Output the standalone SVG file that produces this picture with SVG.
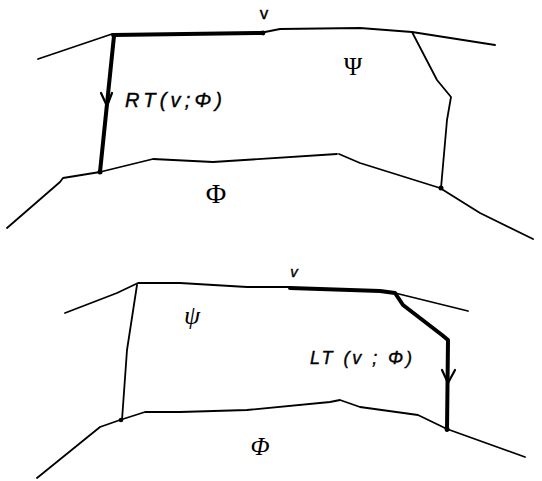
<svg xmlns="http://www.w3.org/2000/svg" width="542" height="481" viewBox="0 0 542 481">
<style>
.thin{fill:none;stroke:#000;stroke-width:1.8;stroke-linejoin:round;stroke-linecap:round}
.thick{fill:none;stroke:#000;stroke-width:4;stroke-linejoin:round;stroke-linecap:round}
.arr{fill:none;stroke:#000;stroke-width:2.2;stroke-linejoin:round;stroke-linecap:round}
.lbl{font-family:"Liberation Sans",Arial,sans-serif;fill:#000;stroke:#000;stroke-width:0.4}
.sym{font-family:"Liberation Serif","Times New Roman",serif;fill:#000}
</style>
<rect width="542" height="481" fill="#fff"/>
<g id="top-diagram">
  <g id="top-connectors">
    <path class="thin" d="M38,59 L112,34"/>
    <path class="thin" d="M265,32 L280,29 L360,28 L412,32 L495,45"/>
    <path class="thin" d="M412,32 L437,80 L451,97 L447,120 L441,188"/>
    <path class="thin" d="M7,228 L60,182 L63,178 L100,172 L153,159 L213,162 L337,154"/>
    <path class="thin" d="M339,154 L360,163 L440,188 L480,213 L533,239"/>
    <path class="thick" d="M113,35 L263,33"/>
    <path class="thick" d="M114,36 L100,172"/>
    <path class="arr" d="M101,93 L107,106 L112,93"/>
    <circle cx="263" cy="33" r="2.4"/>
    <circle cx="100" cy="172" r="2.5"/>
    <circle cx="441" cy="188" r="2.5"/>
  </g>
  <g id="top-labels">
    <text class="lbl" x="264" y="19" font-size="17" text-anchor="middle">v</text>
    <text class="sym" x="353" y="75" font-size="25" text-anchor="middle">Ψ</text>
    <text class="lbl" x="125" y="107" font-size="20" font-style="italic" textLength="97" lengthAdjust="spacing">RT(v;Φ)</text>
    <text class="sym" x="216" y="203" font-size="28" text-anchor="middle">Φ</text>
  </g>
</g>
<g id="bottom-diagram">
  <g id="bottom-connectors">
    <path class="thin" d="M65,313 L117,293 L138,283 L180,283 L247,287 L290,287"/>
    <path class="thin" d="M395,293 L468,311"/>
    <path class="thin" d="M137,285 L127,350 L122,420"/>
    <path class="thin" d="M37,478 L100,427 L120,420 L145,412 L180,412 L247,410 L330,402 L340,400 L360,407 L418,415 L447,429 L525,457"/>
    <path class="thick" d="M290,288 L380,291 L395,293 L403,305 L442,335 L448,340 L447,430"/>
    <path class="arr" d="M442,370 L448,383 L455,370"/>
    <circle cx="121" cy="420" r="2.3"/>
    <circle cx="447" cy="429" r="2.5"/>
  </g>
  <g id="bottom-labels">
    <text class="lbl" x="294" y="277" font-size="15" font-style="italic" text-anchor="middle">v</text>
    <text class="sym" x="192" y="324" font-size="26" font-style="italic" text-anchor="middle">ψ</text>
    <text class="lbl" x="310" y="364" font-size="18" font-style="italic" textLength="102" lengthAdjust="spacing">LT (v ; Φ)</text>
    <text class="sym" x="260" y="455" font-size="25" font-style="italic" text-anchor="middle">Φ</text>
  </g>
</g>
</svg>
